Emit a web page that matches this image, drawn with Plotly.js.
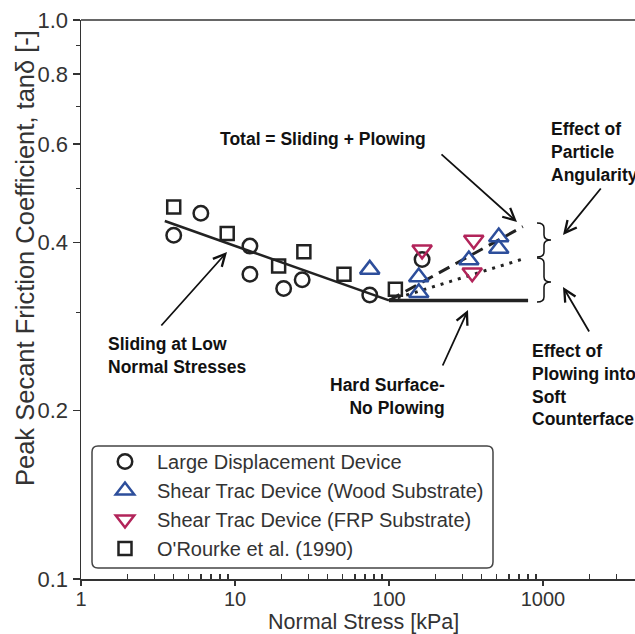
<!DOCTYPE html>
<html><head><meta charset="utf-8">
<script src="https://cdn.plot.ly/plotly-3.0.1.min.js"></script>
<style>html,body{margin:0;padding:0;background:#fff}</style>
</head><body><div id="chart" style="width:635px;height:634px"></div>
<script>
// ---- data ----
const ldd_x = [4.0, 6.0, 12.5, 12.5, 20.7, 27.3, 75, 164];
const ldd_y = [0.412, 0.451, 0.394, 0.351, 0.331, 0.343, 0.322, 0.373];
const wood_x = [75, 156, 156, 330, 516, 516];
const wood_y = [0.358, 0.347, 0.325, 0.372, 0.409, 0.390];
const frp_x = [164, 355, 347];
const frp_y = [0.388, 0.404, 0.353];
const orourke_x = [4.0, 8.9, 19.2, 28, 51, 110];
const orourke_y = [0.463, 0.415, 0.363, 0.385, 0.351, 0.330];
const sliding_x = [3.5, 100];
const sliding_y = [0.437, 0.315];
const hard_x = [100, 800];
const hard_y = [0.315, 0.315];
const total_x = [100, 740];
const total_y = [0.315, 0.427];
const plowing_x = [100, 727];
const plowing_y = [0.315, 0.373];
const x_tickvals = [1, 10, 100, 1000];
const x_ticktext = ['1', '10', '100', '1000'];
const x_minor = [2,3,4,5,6,7,8,9,20,30,40,50,60,70,80,90,200,300,400,500,600,700,800,900,2000,3000];
const y_tickvals = [0.1, 0.2, 0.4, 0.6, 0.8, 1.0];
const y_ticktext = ['0.1', '0.2', '0.4', '0.6', '0.8', '1.0'];
const y_minor = [0.3, 0.5, 0.7, 0.9];
const names = ['Large Displacement Device', 'Shear Trac Device (Wood Substrate)', 'Shear Trac Device (FRP Substrate)', "O'Rourke et al. (1990)"];

// ---- geometry ----
const W = 635, H = 634, L = 81, T = 20, B = 55, R = 0;
const PW = W - L - R, PH = H - T - B;
const px = x => (x - L) / PW;
const py = y => (T + PH - y) / PH;

const FONT = '"Liberation Sans", Arial, sans-serif';
const GREY = '#333333';
const BLUE = '#2d4e9b';
const RED = '#b2245a';
const DARK = '#222222';

const traces = [
  {x: sliding_x, y: sliding_y, mode: 'lines', line: {color: DARK, width: 2.5}, showlegend: false, hoverinfo: 'skip'},
  {x: hard_x, y: hard_y, mode: 'lines', line: {color: DARK, width: 3.5}, showlegend: false, hoverinfo: 'skip'},
  {x: total_x, y: total_y, mode: 'lines', line: {color: DARK, width: 3, dash: '12px,7px'}, showlegend: false, hoverinfo: 'skip'},
  {x: plowing_x, y: plowing_y, mode: 'lines', line: {color: DARK, width: 3, dash: '3px,6px'}, showlegend: false, hoverinfo: 'skip'},
  {x: ldd_x, y: ldd_y, name: names[0], mode: 'markers', marker: {symbol: 'circle-open', size: 14.5, color: DARK, line: {width: 2.5, color: DARK}}},
  {x: wood_x, y: wood_y, name: names[1], mode: 'markers', marker: {symbol: 'triangle-up-open', size: 17, color: BLUE, line: {width: 2.5, color: BLUE}}},
  {x: frp_x, y: frp_y, name: names[2], mode: 'markers', marker: {symbol: 'triangle-down-open', size: 17, color: RED, line: {width: 2.5, color: RED}}},
  {x: orourke_x, y: orourke_y, name: names[3], mode: 'markers', marker: {symbol: 'square-open', size: 13, color: DARK, line: {width: 2.5, color: DARK}}}
];

function txt(text, x, y, xanchor, align) {
  return {xref: 'paper', yref: 'paper', x: px(x), y: py(y), xanchor: xanchor, yanchor: 'middle',
    align: align || 'left', showarrow: false, text: '<b>' + text + '</b>',
    font: {family: FONT, size: 17.5, color: '#111111'}};
}
function arrow(tx, ty, hx, hy) {
  return {xref: 'paper', yref: 'paper', x: px(hx), y: py(hy), ax: tx - hx, ay: ty - hy,
    text: '', showarrow: true, arrowhead: 5, arrowsize: 1.3, arrowwidth: 1.8, arrowcolor: '#111111', standoff: 0, startstandoff: 0};
}
function brace(xl, y0, y1, yc) {
  const xm = xl + 7, xt = xl + 14, r = 5;
  const P = (x, y) => px(x).toFixed(5) + ',' + py(y).toFixed(5);
  const d = 'M' + P(xl, y0) + ' Q' + P(xm, y0) + ' ' + P(xm, y0 + r) +
    ' L' + P(xm, yc - r) + ' Q' + P(xm, yc) + ' ' + P(xt, yc) +
    ' Q' + P(xm, yc) + ' ' + P(xm, yc + r) +
    ' L' + P(xm, y1 - r) + ' Q' + P(xm, y1) + ' ' + P(xl, y1);
  return {type: 'path', xref: 'paper', yref: 'paper', path: d, line: {color: '#111111', width: 1.5}};
}
function roundRect(x0, y0, x1, y1, r) {
  const P = (x, y) => px(x).toFixed(5) + ',' + py(y).toFixed(5);
  const d = 'M' + P(x0 + r, y0) + ' L' + P(x1 - r, y0) + ' Q' + P(x1, y0) + ' ' + P(x1, y0 + r) +
    ' L' + P(x1, y1 - r) + ' Q' + P(x1, y1) + ' ' + P(x1 - r, y1) +
    ' L' + P(x0 + r, y1) + ' Q' + P(x0, y1) + ' ' + P(x0, y1 - r) +
    ' L' + P(x0, y0 + r) + ' Q' + P(x0, y0) + ' ' + P(x0 + r, y0) + ' Z';
  return {type: 'path', xref: 'paper', yref: 'paper', path: d, line: {color: '#444444', width: 1.5}, fillcolor: 'rgba(0,0,0,0)'};
}

const annotations = [
  txt('Total = Sliding + Plowing', 323, 139, 'center', 'center'),
  arrow(440, 153, 517, 222),
  txt('Effect of<br>Particle<br>Angularity', 549, 152, 'left', 'left'),
  arrow(602, 187, 563, 235),
  txt('Effect of<br>Plowing into<br>Soft<br>Counterface', 530, 385, 'left', 'left'),
  arrow(590, 333, 563, 287),
  txt('Hard Surface-<br>No Plowing', 447, 396, 'right', 'right'),
  arrow(442, 367, 468, 310),
  txt('Sliding at Low<br>Normal Stresses', 106, 355, 'left', 'left'),
  arrow(160, 327, 227, 252),
  {xref: 'paper', yref: 'paper', x: px(25), y: py(258), xanchor: 'center', yanchor: 'middle', textangle: -90,
   showarrow: false, text: 'Peak Secant Friction Coefficient, tanδ [-]', font: {family: FONT, size: 25.5, color: GREY}},
  {xref: 'paper', yref: 'paper', x: px(363), y: py(622), xanchor: 'center', yanchor: 'middle',
   showarrow: false, text: 'Normal Stress [kPa]', font: {family: FONT, size: 21.5, color: GREY}}
];

const shapes = [
  {type: 'line', xref: 'paper', yref: 'paper', x0: 0, x1: 1, y0: 1, y1: 1, line: {color: GREY, width: 1.5}},
  brace(537, 223, 257, 240),
  brace(537, 258, 302, 282),
  roundRect(92, 446, 493, 568, 6)
];

const layout = {
  width: W, height: H,
  margin: {l: L, r: R, t: T, b: B, pad: 0},
  paper_bgcolor: '#ffffff', plot_bgcolor: '#ffffff',
  font: {family: FONT, color: GREY, size: 20},
  showlegend: true,
  legend: {x: px(93), y: py(442), xanchor: 'left', yanchor: 'top', bgcolor: 'rgba(0,0,0,0)', borderwidth: 0,
    itemwidth: 54, font: {family: FONT, size: 20, color: GREY}, traceorder: 'normal'},
  xaxis: {type: 'log', range: [0, PW / 154], showgrid: false, zeroline: false, showline: true, linecolor: GREY, linewidth: 1.5,
    mirror: false, ticks: 'outside', ticklen: 5, tickwidth: 1.5, tickcolor: GREY, ticklabelstandoff: -4,
    tickmode: 'array', tickvals: x_tickvals, ticktext: x_ticktext, tickfont: {size: 20, color: GREY},
    minor: {tickmode: 'array', tickvals: x_minor, ticks: 'inside', ticklen: 5, tickwidth: 1.5, tickcolor: GREY, showgrid: false},
    automargin: false},
  yaxis: {type: 'log', range: [-1, 0], showgrid: false, zeroline: false, showline: true, linecolor: GREY, linewidth: 1.5,
    mirror: false, ticks: 'outside', ticklen: 7, tickwidth: 1.5, tickcolor: GREY,
    tickmode: 'array', tickvals: y_tickvals, ticktext: y_ticktext, tickfont: {size: 22, color: GREY},
    minor: {tickmode: 'array', tickvals: y_minor, ticks: 'outside', ticklen: 4, tickwidth: 1.5, tickcolor: GREY, showgrid: false},
    automargin: false},
  annotations: annotations,
  shapes: shapes
};

Plotly.newPlot('chart', traces, layout, {displayModeBar: false, staticPlot: true});
</script>
</body></html>
